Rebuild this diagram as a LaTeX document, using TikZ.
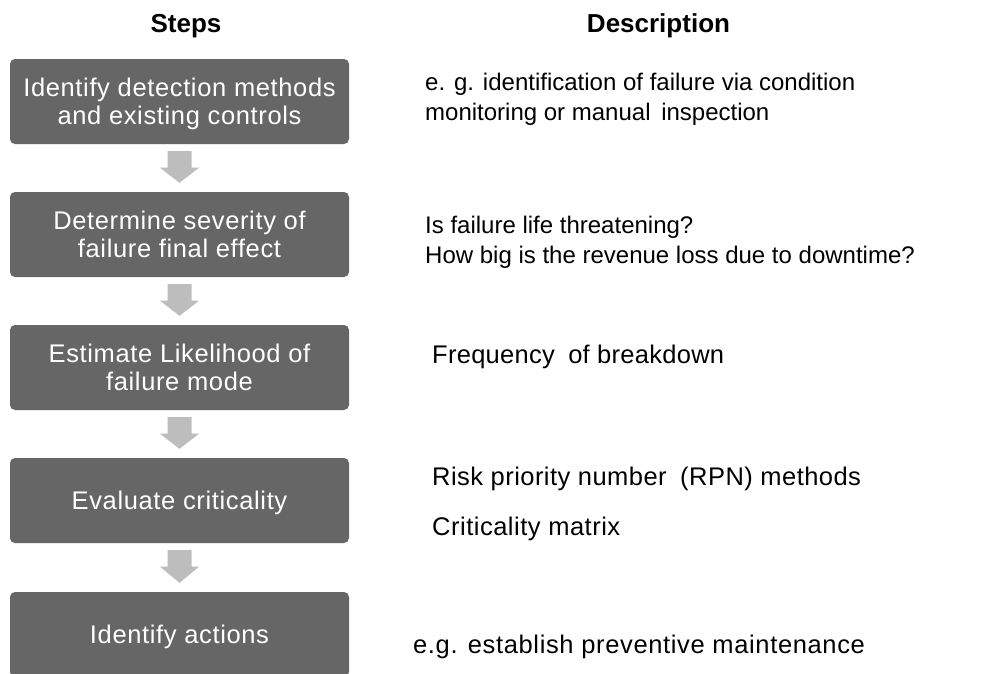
\documentclass[tikz,border=0pt]{standalone}
\usepackage{fontspec}
\setmainfont{Liberation Sans}
\usetikzlibrary{calc}

\definecolor{boxgray}{RGB}{102,102,102}
\definecolor{arrowgray}{RGB}{189,189,189}

% two centred / left-aligned lines whose baseline is that of the first line
\newcommand\centerlines[2]{\vtop{\halign{\hfil##\hfil\cr#1\cr#2\cr}}}
\newcommand\leftlines[2]{\vtop{\halign{##\hfil\cr#1\cr#2\cr}}}

% block arrow from the bottom of one step to the top of the next
\newcommand\steparrow[2]{%
  \fill[flowarrow]
    ($(#1.south)+(-12,7)$) -- ($(#1.south)+(12,7)$) --
    ($(#1.south)+(12,23.5)$) -- ($(#1.south)+(19.5,23.5)$) --
    ($(#2.north)+(0,-9)$) --
    ($(#1.south)+(-19.5,23.5)$) -- ($(#1.south)+(-12,23.5)$) -- cycle;}

\begin{document}
\begin{tikzpicture}[x=1pt,y=-1pt,
  stepbox/.style={rectangle, rounded corners=5pt, fill=boxgray, text=white,
    minimum width=339pt, minimum height=85pt, inner sep=0pt,
    font=\fontsize{25.5}{27.5}\selectfont\addfontfeature{LetterSpace=2.5},
    text height=23.1pt, text depth=5.4pt},
  twoline/.style={text depth=32.9pt},
  header/.style={anchor=base, inner sep=0pt,
    font=\fontsize{26}{30}\selectfont\bfseries},
  desc/.style={anchor=base west, inner sep=0pt,
    font=\fontsize{24}{30.5}\selectfont},
  spaced/.style={font=\fontsize{25.5}{30.5}\selectfont\addfontfeature{LetterSpace=#1}},
  flowarrow/.style={fill=arrowgray},
]
\useasboundingbox (0,0) rectangle (982,673);
\fill[white] (0,0) rectangle (982,673);
\clip (0,0) rectangle (982,673);

% column headings
\node[header] (hsteps) at (186,32) {Steps};
\node[header] (hdesc) at (658.5,32) {Description};

% process steps
\node[stepbox, twoline] (s1) at (179.5,101.5) {\centerlines{Identify detection methods}{and existing controls}};
\node[stepbox, twoline] (s2) at (179.5,234.5) {\centerlines{Determine severity of}{failure final effect}};
\node[stepbox, twoline] (s3) at (179.5,367.5) {\centerlines{Estimate Likelihood of}{failure mode}};
\node[stepbox] (s4) at (179.5,500.5) {Evaluate criticality};
\node[stepbox] (s5) at (179.5,634.5) {Identify actions};

\steparrow{s1}{s2}
\steparrow{s2}{s3}
\steparrow{s3}{s4}
\steparrow{s4}{s5}

% descriptions
\node[desc] (d1) at (425,90) {\leftlines{e. g. identification of failure via condition}{monitoring or manual\hspace{4pt} inspection}};
\node[desc] (d2) at (425,233) {\leftlines{Is failure life threatening?}{How big is the revenue loss due to downtime?}};
\node[desc, spaced=1.1] (d3) at (432,363) {Frequency\hspace{6pt} of breakdown};
\node[desc, spaced=1.8] (d4) at (432,485) {Risk priority number\hspace{6pt} (RPN) methods};
\node[desc, spaced=2] (d5) at (432,535) {Criticality matrix};
\node[desc, spaced=2.5] (d6) at (413,653) {e.g. establish preventive maintenance};
\end{tikzpicture}
\end{document}
